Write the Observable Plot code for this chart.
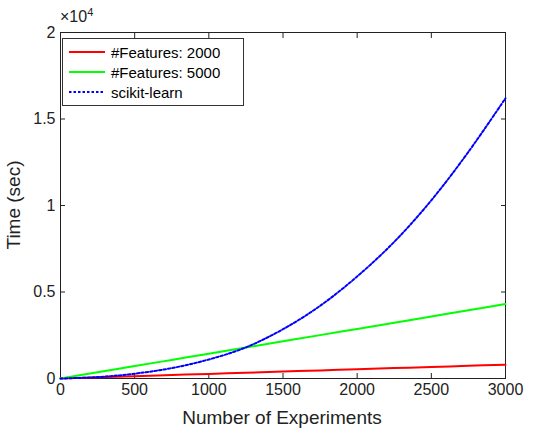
<!DOCTYPE html>
<html><head><meta charset="utf-8">
<script src="https://cdn.jsdelivr.net/npm/d3@7"></script>
<script src="https://cdn.jsdelivr.net/npm/@observablehq/plot@0.6"></script>
<style>
body{margin:0;background:#fff;font-family:"Liberation Sans",Arial,sans-serif}
#wrap{position:relative;width:542px;height:439px}
#legend{position:absolute;left:62px;top:38px;width:180px;border:1px solid #333;background:#fff;font-size:15px;padding:3px 0}
#legend div{display:flex;align-items:center;height:20px}
#legend svg{margin:0 6px 0 6px}
#exp{position:absolute;left:60px;top:6px;font-size:16px;color:#222}
</style></head><body>
<div id="wrap"><div id="chart"></div>
<div id="exp">×10<sup style="font-size:11px">4</sup></div>
<div id="legend"></div></div>
<script>
const experiments = [0,250,500,750,1000,1250,1500,1750,2000,2250,2500,2750,3000];
const feat2000 = [0,67,133,200,267,333,400,467,533,600,667,733,800];
const feat5000 = [0,358,717,1075,1433,1792,2150,2508,2867,3225,3583,3942,4300];
const sklearn = [0,80,280,600,1100,1800,2850,4200,5900,7900,10300,13100,16200];
const xTicks = [0,500,1000,1500,2000,2500,3000];
const yTicks = [0,0.5,1,1.5,2];
const series = [
  {name:"#Features: 2000", values:feat2000, color:"#ff0000", dash:null},
  {name:"#Features: 5000", values:feat5000, color:"#00ff00", dash:null},
  {name:"scikit-learn", values:sklearn, color:"#0000ff", dash:"2.5,2"}
];
const rows = series.flatMap(s => experiments.map((x,i) => ({x, y:s.values[i]/1e4, name:s.name})));
const chart = Plot.plot({
  width:542, height:439, marginLeft:60, marginRight:37, marginTop:32, marginBottom:61,
  style:{fontSize:"16px", fontFamily:"Liberation Sans, Arial, sans-serif", color:"#222"},
  x:{domain:[0,3000]},
  y:{domain:[0,2]},
  marks:[
    Plot.frame({stroke:"#222"}),
    Plot.axisX({ticks:xTicks, tickFormat:d=>String(d), tickSize:-5, tickPadding:10, label:null}),
    Plot.axisX({anchor:"top", ticks:xTicks, tickSize:-5, tickFormat:()=>"", label:null}),
    Plot.axisY({ticks:yTicks, tickFormat:d=>String(d), tickSize:-5, tickPadding:10, label:null}),
    Plot.axisY({anchor:"right", ticks:yTicks, tickSize:-5, tickFormat:()=>"", label:null}),
    ...series.map(s => Plot.line(rows.filter(r=>r.name===s.name), {x:"x", y:"y", stroke:s.color, strokeWidth:2, curve:"catmull-rom", ...(s.dash ? {strokeDasharray:s.dash} : {})}))
  ]
});
const svg = d3.select(chart);
svg.append("text").attr("x",282).attr("y",424).attr("text-anchor","middle").attr("font-size",19).attr("fill","#222").text("Number of Experiments");
svg.append("text").attr("transform","translate(20,205) rotate(-90)").attr("text-anchor","middle").attr("font-size",19).attr("fill","#222").text("Time (sec)");
document.getElementById("chart").append(chart);
const lg = d3.select("#legend");
series.forEach(s => {
  const row = lg.append("div");
  const sv = row.append("svg").attr("width",36).attr("height",10);
  sv.append("line").attr("x1",0).attr("x2",36).attr("y1",5).attr("y2",5).attr("stroke",s.color).attr("stroke-width",2).attr("stroke-dasharray",s.dash);
  row.append("span").text(s.name);
});
</script></body></html>
